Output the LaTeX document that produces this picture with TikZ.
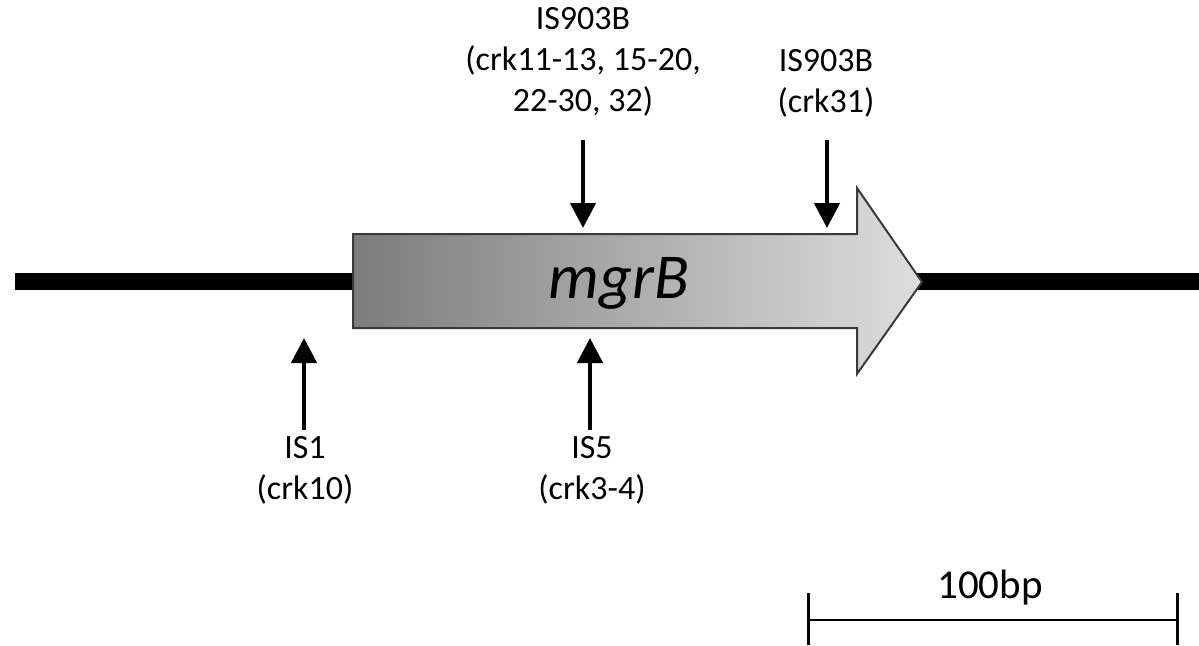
\documentclass[tikz,border=0pt]{standalone}
\usepackage{fontspec}
\setmainfont{Carlito}
\usetikzlibrary{arrows.meta}
\definecolor{genedark}{HTML}{7C7C7C}
\definecolor{genelight}{HTML}{DEDEDE}
\definecolor{geneedge}{HTML}{3A3A3A}
\begin{document}
\begin{tikzpicture}[x=1pt,y=-1pt,
  lbl/.style={align=center, font=\fontsize{34}{41}\selectfont, inner sep=0pt},
  insertion/.style={line width=4.5pt, -{Triangle[length=25pt,width=25pt]}},
  backbone/.style={line width=17pt},
  scalebar/.style={line width=2.5pt},
  scaletick/.style={line width=3pt}]
\useasboundingbox (0,0) rectangle (1199,645);

% chromosome backbone
\coordinate (bbL) at (15,281);
\coordinate (bbR) at (1199,281);
\draw[backbone] (bbL) -- (bbR);

% mgrB gene arrow
\shade[draw=geneedge, line width=2pt, left color=genedark, right color=genelight]
  (353,234) -- (857,234) -- (857,188) -- (922,282) -- (857,374) -- (857,328) -- (353,328) -- cycle;
\node[font=\fontsize{64}{64}\selectfont\itshape, anchor=base, inner sep=0pt] (gene) at (619,298) {mgrB};

% insertion labels
\node[lbl] (isA) at (583,62) {IS903B\\(crk11-13, 15-20,\\22-30, 32)};
\node[lbl] (isB) at (826,83) {IS903B\\(crk31)};
\node[lbl] (isC) at (305,470) {IS1\\(crk10)};
\node[lbl] (isD) at (592,470) {IS5\\(crk3-4)};

% insertion site arrows
\coordinate (aS) at (583,140); \coordinate (aT) at (583,228);
\coordinate (bS) at (827,140); \coordinate (bT) at (827,228);
\coordinate (cS) at (304,430); \coordinate (cT) at (304,338);
\coordinate (dS) at (590,430); \coordinate (dT) at (590,338);
\draw[insertion] (aS) -- (aT);
\draw[insertion] (bS) -- (bT);
\draw[insertion] (cS) -- (cT);
\draw[insertion] (dS) -- (dT);

% scale bar
\coordinate (sL) at (808,620);
\coordinate (sR) at (1177,620);
\draw[scalebar] (sL) -- (sR);
\draw[scaletick] (808,593) -- (808,645);
\draw[scaletick] (1177,593) -- (1177,645);
\node[font=\fontsize{41}{41}\selectfont, inner sep=0pt] (scale) at (990,588) {100bp};
\end{tikzpicture}
\end{document}
